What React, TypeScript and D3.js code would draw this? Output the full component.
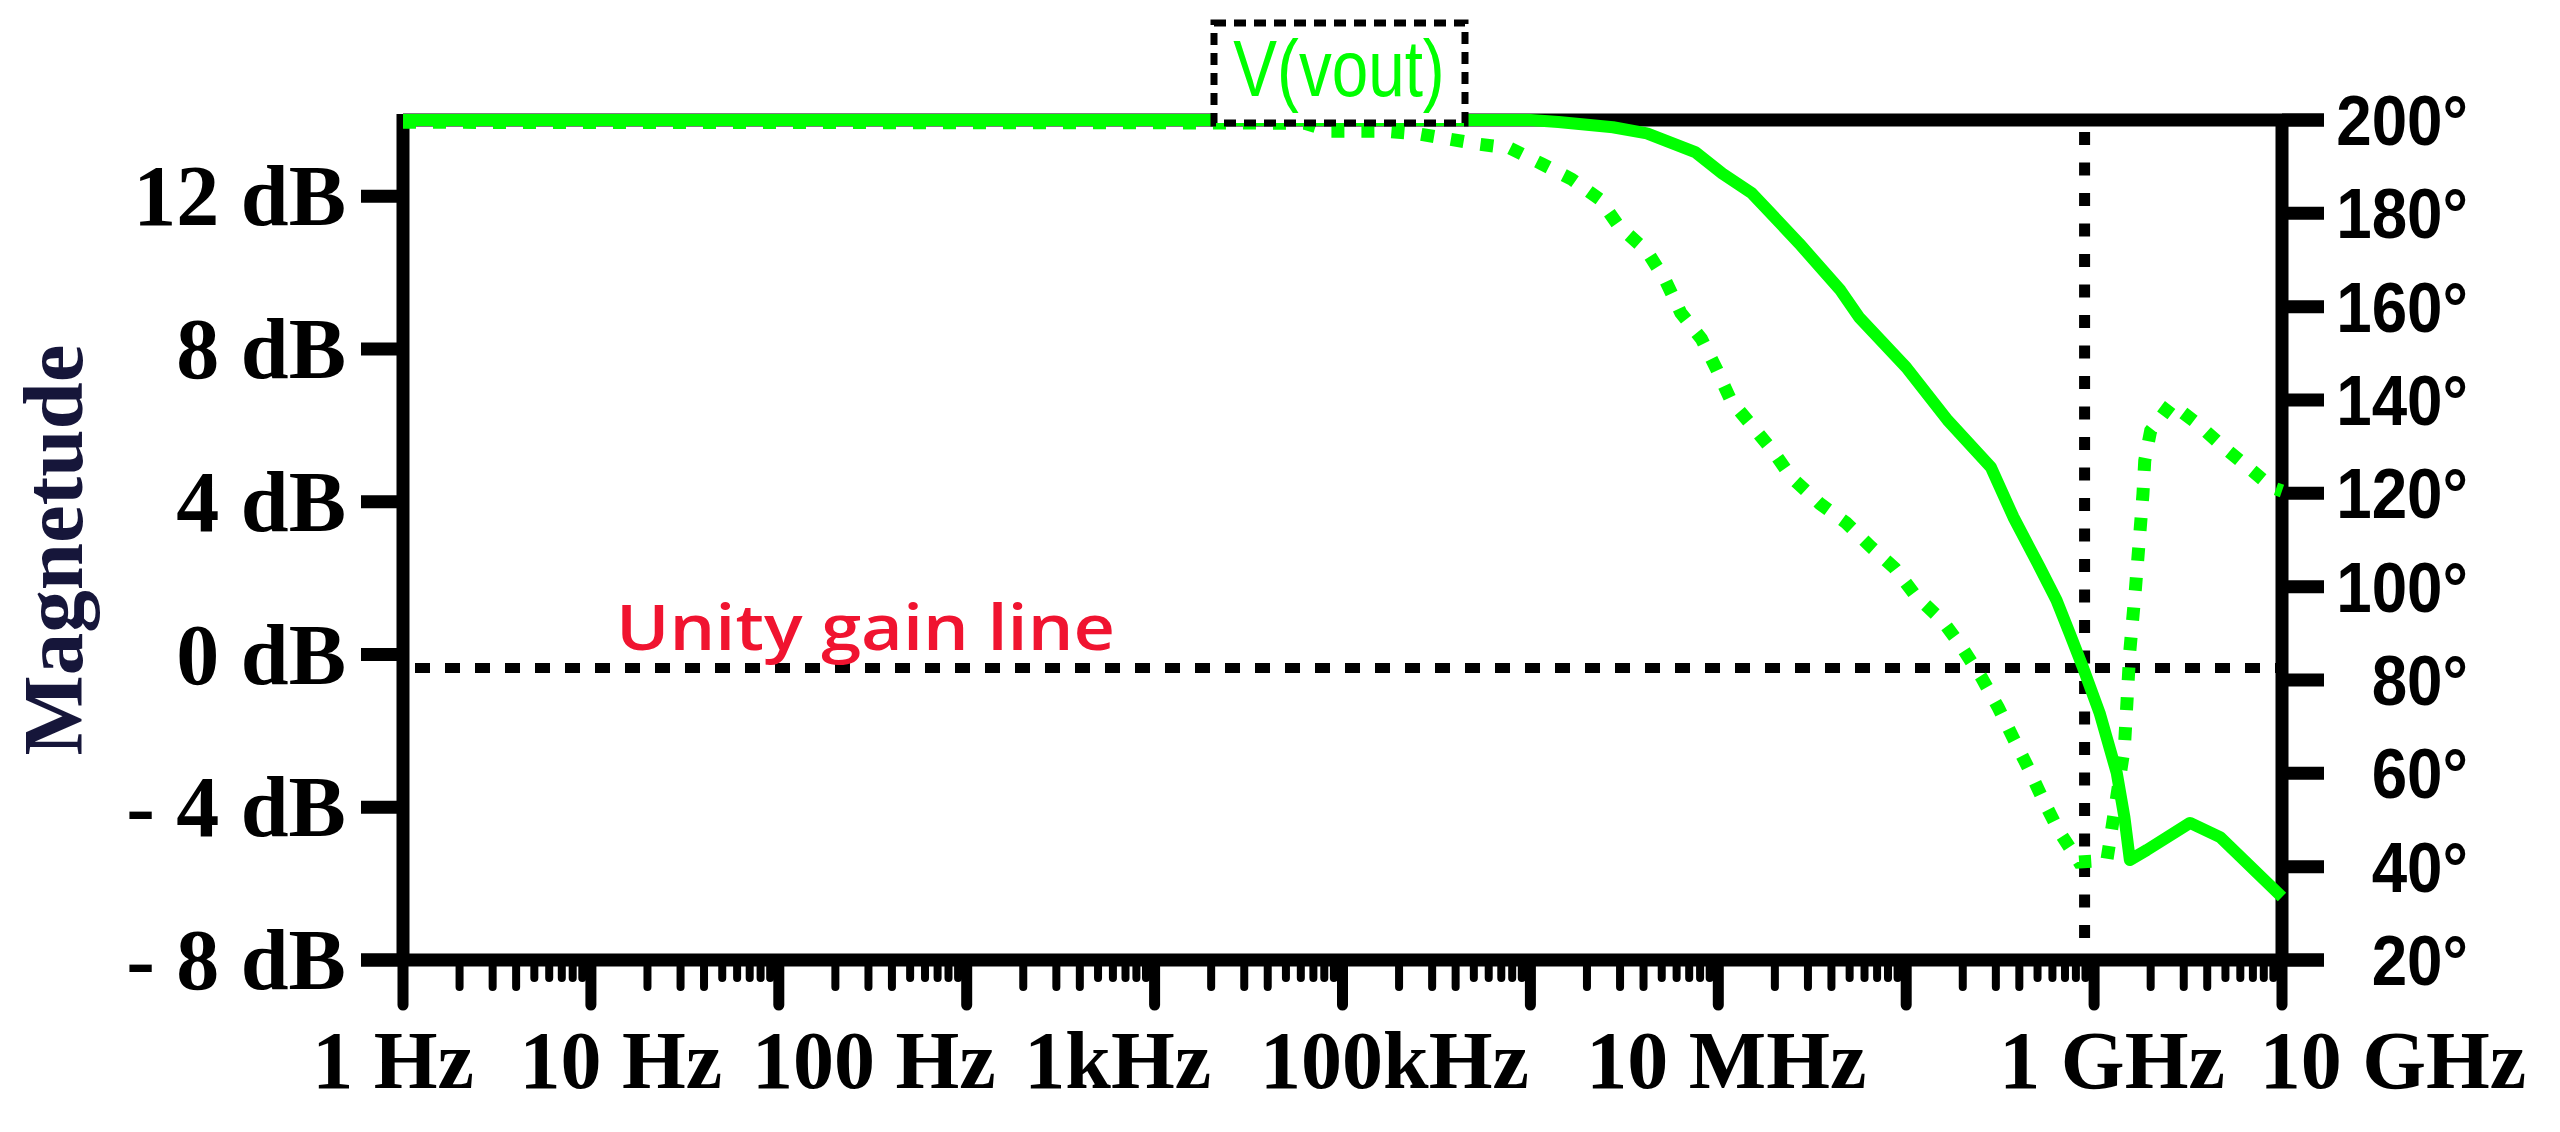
import React from 'react';
import * as d3 from 'd3';

// magnitude trace (solid)
const magFreq = [1, 1e3, 1e6, 1.41e6, 2.75e6, 4.17e6, 7.59e6, 1.05e7, 1.51e7, 2.69e7, 4.47e7, 5.62e7, 1e8, 1.66e8, 2.82e8, 3.72e8, 5.13e8, 6.31e8, 7.41e8, 8.71e8, 1.07e9, 1.32e9, 1.45e9, 1.55e9, 1.91e9, 3.24e9, 4.68e9, 1e10];
const magDb = [14, 14, 14, 13.95, 13.81, 13.65, 13.15, 12.6, 12.08, 10.77, 9.54, 8.83, 7.52, 6.14, 4.91, 3.6, 2.29, 1.42, 0.56, -0.33, -1.53, -3.1, -4.26, -5.38, -5.12, -4.41, -4.78, -6.35];

// phase trace (dotted), right axis
const phaseFreq = [1, 1e4, 6.31e4, 7.59e4, 8.13e4, 1.7e5, 2.57e5, 3.72e5, 5.37e5, 7.76e5, 1.15e6, 1.66e6, 2.34e6, 2.95e6, 4.17e6, 5.25e6, 6.31e6, 8.13e6, 9.77e6, 1.17e7, 1.51e7, 1.95e7, 2.45e7, 3.47e7, 4.79e7, 6.46e7, 8.71e7, 1.12e8, 1.55e8, 1.95e8, 2.51e8, 3.09e8, 3.72e8, 4.47e8, 5.37e8, 6.46e8, 8.32e8, 1.17e9, 1.45e9, 1.55e9, 1.66e9, 1.82e9, 1.86e9, 2e9, 2.57e9, 3.55e9, 4.79e9, 6.46e9, 8.91e9, 1e10];
const phaseDeg = [199.5, 199.4, 199.3, 198.3, 197.6, 197.6, 197, 195.9, 194.8, 194, 190.6, 187.3, 183, 177.3, 171.9, 165.5, 158.7, 153.1, 146.7, 139.8, 134.5, 129.1, 123.4, 117.8, 113.7, 108.6, 103.9, 98.1, 92.8, 87.4, 80.6, 74.1, 67.5, 61.1, 54.2, 47.8, 41, 41.4, 65.6, 86.3, 99.6, 119.9, 127, 133.4, 139.2, 134.9, 130.2, 125.9, 121.2, 120.5];

const dbTicks = [12, 8, 4, 0, -4, -8];
const dbTickLabels = ['12 dB', '8 dB', '4 dB', '0 dB', '- 4 dB', '- 8 dB'];
const degTicks = [200, 180, 160, 140, 120, 100, 80, 60, 40, 20];
const freqTicks = [1, 10, 100, 1e3, 1e5, 1e7, 1e9, 1e10];
const freqTickLabels = ['1 Hz', '10 Hz', '100 Hz', '1kHz', '100kHz', '10 MHz', '1 GHz', '10 GHz'];

const unityGainDb = -0.35;
const crossoverFreq = 8.9e8;
const legendLabel = 'V(vout)';
const yTitle = 'Magnetude';
const unityLabel = 'Unity gain line';

const W = 2560;
const H = 1132;
const left = 403;
const right = 2282;
const top = 120;
const bottom = 960;

// the labels under the x axis sit a little off their ticks in the original
const freqLabelShift = [-10, 30, 95, 151, 52, 8, 18, 111];

const serif = "'Liberation Serif', 'Times New Roman', serif";
const sans = "'Liberation Sans', Arial, sans-serif";
const green = '#00ff00';

export default function App() {
  const x = d3.scaleLog().domain([1, 1e10]).range([left, right]);
  const yMag = d3.scaleLinear().domain([-8, 14]).range([bottom, top]);
  const yPh = d3.scaleLinear().domain([20, 200]).range([bottom, top]);

  const magLine = d3.line<number>()
    .x((_, i) => x(magFreq[i]))
    .y(d => yMag(d));
  const phLine = d3.line<number>()
    .x((_, i) => x(phaseFreq[i]))
    .y(d => yPh(d));

  const minor: { f: number; m: number }[] = [];
  for (let k = 0; k < 10; k++) {
    for (let m = 2; m <= 9; m++) minor.push({ f: m * Math.pow(10, k), m });
  }
  const decades = d3.range(0, 11).map(k => Math.pow(10, k));

  return (
    <svg width={W} height={H} style={{ position: 'absolute', left: 0, top: 0, background: '#fff' }}>
      <rect width={W} height={H} fill="#fff" />

      {/* frame */}
      <g stroke="#000" strokeWidth={13}>
        <line x1={left} x2={right + 42} y1={top} y2={top} />
        <line x1={left - 42} x2={right + 42} y1={bottom} y2={bottom} />
        <line x1={left} x2={left} y1={top - 6} y2={bottom} />
        <line x1={right} x2={right} y1={top - 6} y2={bottom} />
      </g>

      {/* left ticks */}
      {dbTicks.map(d => (
        <line key={'lt' + d} x1={left - 42} x2={left} y1={yMag(d)} y2={yMag(d)} stroke="#000" strokeWidth={13} />
      ))}
      {/* right ticks */}
      {degTicks.map(d => (
        <line key={'rt' + d} x1={right} x2={right + 42} y1={yPh(d)} y2={yPh(d)} stroke="#000" strokeWidth={13} />
      ))}
      {/* x ticks */}
      {minor.map(t => (
        <line key={'mn' + t.f} x1={x(t.f)} x2={x(t.f)} y1={bottom} y2={bottom + (t.m <= 4 ? 27 : 18)}
          stroke="#000" strokeWidth={8} strokeLinecap="round" />
      ))}
      {decades.map(f => (
        <line key={'mj' + f} x1={x(f)} x2={x(f)} y1={bottom} y2={bottom + 45}
          stroke="#000" strokeWidth={11} strokeLinecap="round" />
      ))}

      {/* unity gain and crossover markers */}
      <line x1={left + 12} x2={right - 6} y1={yMag(unityGainDb)} y2={yMag(unityGainDb)}
        stroke="#000" strokeWidth={10} strokeDasharray="15 15" />
      <line x1={x(crossoverFreq)} x2={x(crossoverFreq)} y1={top + 12} y2={bottom}
        stroke="#000" strokeWidth={11} strokeDasharray="13 17.5" />

      {/* traces */}
      <path d={phLine(phaseDeg) || ''} fill="none" stroke={green} strokeWidth={13} strokeDasharray="13 17" />
      <path d={magLine(magDb) || ''} fill="none" stroke={green} strokeWidth={12} strokeLinejoin="round" />

      {/* legend */}
      <rect x={1214} y={23} width={251} height={100} fill="#fff" stroke="#000" strokeWidth={7} strokeDasharray="12 8" />
      <text transform="translate(1339,96) scale(0.82,1)" textAnchor="middle" fontFamily={sans} fontSize={80} fill={green}>
        {legendLabel}
      </text>

      {/* unity label */}
      <text x={616} y={650} fontFamily="'Open Sans', sans-serif" fontWeight={600} fontSize={64}
        textLength={499} lengthAdjust="spacingAndGlyphs" fill="#f01430">
        {unityLabel}
      </text>

      {/* left tick labels */}
      {dbTicks.map((d, i) => (
        <text key={'ll' + d} x={346} y={yMag(d) + 29} textAnchor="end"
          fontFamily={serif} fontWeight="bold" fontSize={86} fill="#000">
          {dbTickLabels[i]}
        </text>
      ))}
      {/* right tick labels */}
      {degTicks.map(d => (
        <text key={'rl' + d} transform={`translate(2468,${yPh(d) + 25}) scale(0.91,1)`} textAnchor="end"
          fontFamily={sans} fontWeight="bold" fontSize={70} fill="#000">
          {d}°
        </text>
      ))}
      {/* x tick labels */}
      {freqTicks.map((f, i) => (
        <text key={'xl' + f} x={x(f) + freqLabelShift[i]} y={1088} textAnchor="middle"
          fontFamily={serif} fontWeight="bold" fontSize={82} fill="#000">
          {freqTickLabels[i]}
        </text>
      ))}

      <text transform="translate(82,550) rotate(-90)" textAnchor="middle" fontFamily={serif} fontWeight="bold"
        fontSize={85} fill="#16163a">
        {yTitle}
      </text>
    </svg>
  );
}
